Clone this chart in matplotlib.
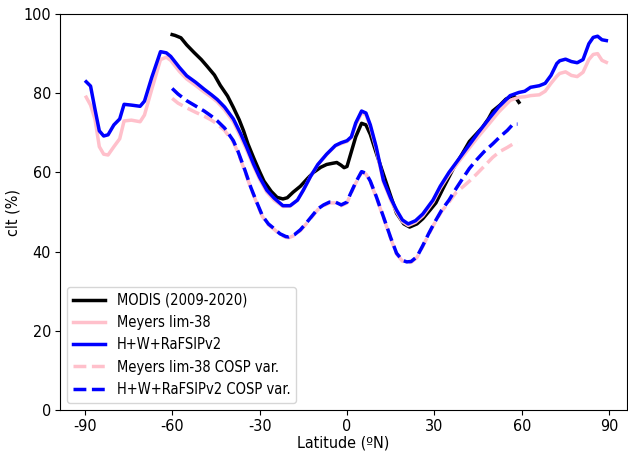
import numpy as np
import matplotlib
matplotlib.use("Agg")
import matplotlib.pyplot as plt

# Data
LAT_MODEL = [-89.5, -88, -86.5, -85, -83.5, -82, -80, -78, -76.5, -74, -71, -69.5,
             -67, -64, -62, -60.5, -57.5, -55, -52, -49, -46.5, -44.5, -42, -39,
             -36.5, -34.5, -32, -30, -27.5, -25, -22, -19.5, -17, -15, -12.5, -10,
             -7, -4, -2, 0, 1.5, 3, 5, 6.5, 8, 10, 12.5, 15, 17, 19, 21, 23.5, 26,
             29.5, 32, 35, 38, 42, 45, 49, 52, 56, 59, 61, 63, 66, 68, 70, 72, 73,
             75, 77, 79, 81, 83, 84.5, 86, 87.5, 89]
HWR = [82.9, 81.8, 76, 70.5, 69.2, 69.5, 72, 73.5, 77.2, 77, 76.7, 78,
       84, 90.5, 90.2, 89.3, 86.5, 84.4, 82.8, 81, 79.6, 78.4, 76.5, 73.5,
       69.8, 66.5, 62, 58.8, 55.5, 53.5, 51.6, 51.6, 53, 55.5, 59, 62,
       64.6, 66.8, 67.5, 68, 69, 72.5, 75.5, 75, 72, 66.5, 58, 53.5, 50.5, 48, 47, 47.8, 49.5,
       53, 56.5, 60, 63, 67, 70, 73.8, 76.5, 79.4, 80.2, 80.5, 81.5, 81.9, 82.5, 84.5, 87.5, 88.2,
       88.6, 88, 87.7, 88.5, 92.5, 94.1, 94.4, 93.5, 93.3]
MEYERS = [79, 77, 73.5, 66.5, 64.6, 64.4, 66.5, 68.5, 73, 73.2, 72.8, 74.5,
          81, 88.5, 89.1, 88.3, 85.5, 83.6, 82, 80.3, 79, 77.8, 75.8, 72.8,
          69, 65.8, 61.5, 58.3, 55, 53, 51.4, 51.5, 53, 55.5, 59, 62,
          64.5, 66.7, 67.3, 67.8, 68.8, 72, 75, 74.6, 71.5, 66, 57.6, 53, 50, 47.6, 46.6, 47.4, 49,
          52.5, 56, 59.5, 62.4, 66.2, 69, 72.5, 75.2, 78.2, 79, 79.1, 79.4, 79.6, 80.5, 82.5, 84.3, 85,
          85.4, 84.5, 84.2, 85.3, 88.5, 89.8, 90, 88.3, 87.8]

LAT_MODIS = [-60, -59, -57, -55, -52.5, -50, -48, -45.5, -43.5, -41, -39, -37, -35.5,
             -34, -32, -30, -28.5, -26, -24, -22, -20.5, -18.5, -16, -13.5, -11.5, -9,
             -7, -5, -3.5, -2, -1, 0, 1, 3, 5, 6.5, 8, 10, 12.5, 15, 17, 19.5, 21.5,
             24, 26, 28.5, 30.5, 33, 36.5, 39, 42, 44.5, 46.5, 48.5, 50, 52.5, 54.5,
             57, 58, 59]
MODIS = [94.8, 94.6, 94, 92.2, 90.3, 88.5, 86.8, 84.6, 82, 79.3, 76.4, 73.3, 70.5,
         67.2, 63.6, 60.2, 57.8, 55.2, 53.7, 53.3, 53.6, 55, 56.5, 58.5, 60, 61.3,
         62, 62.3, 62.5, 61.8, 61.2, 61.5, 64, 69, 72.4, 72, 69.6, 65, 59.5, 54, 49.7, 47, 46.2,
         47, 48.3, 50.5, 52.3, 56, 61, 64, 67.8, 69.8, 71.4, 73.5, 75.5, 77, 78.5,
         79.4, 78.8, 77.7]

LAT_COSP = [-60, -58, -55, -52, -49, -46.5, -44.5, -42, -39, -37.5, -35, -33, -31, -29,
            -27, -25, -23, -21, -20, -18, -16, -14, -12, -10, -8, -6, -4, -2, 0, 1, 3,
            5, 6.5, 8, 10, 12.5, 15, 17, 19, 20.5, 22, 24, 26, 28, 30, 32.5, 35, 37.5,
            40, 42, 44.5, 47, 50, 52.5, 55, 57, 58.5]
HWR_COSP = [81.2, 79.8, 78.1, 76.8, 75.5, 74.2, 73, 71.2, 68, 65.5, 60.5, 56.2, 52.5, 49,
            47, 45.8, 44.5, 43.8, 43.7, 44.3, 45.5, 47.2, 49, 50.8, 51.8, 52.5, 52.5, 51.8, 52.5, 54.3, 57.5,
            60.2, 59.8, 57.8, 54, 48.8, 43.5, 39.6, 37.8, 37.4, 37.5, 38.7, 41.5, 44.5, 47.3, 50.5, 53, 56,
            58.8, 61, 63.2, 65.2, 67.2, 69, 70.6, 72.2, 72.2]
MEYERS_COSP = [78.7, 77.5, 76.3, 75.2, 74.2, 73.2, 72.2, 70.6, 67.6, 65.2, 60.2, 56, 52.3, 48.8,
               46.8, 45.6, 44.3, 43.6, 43.5, 44.1, 45.3, 47, 48.8, 50.6, 51.6, 52.3, 52.3, 51.6, 52.3, 54.1, 57.3,
               60, 59.6, 57.6, 53.8, 48.6, 43.3, 39.4, 37.6, 37.2, 37.3, 38.5, 41.3, 44.3, 47.1, 50.2, 52.5, 55,
               56.5, 57.8, 59.6, 61.5, 63.8, 65.3, 66.3, 67.2, 67.6]

XTICKS = [-90, -60, -30, 0, 30, 60, 90]
YTICKS = [0, 20, 40, 60, 80, 100]

plt.rcParams['font.family'] = ['DejaVu Sans']
plt.rcParams['font.stretch'] = 'condensed'
plt.rcParams['font.size'] = 11.5

fig = plt.figure(figsize=(6.28, 4.53), dpi=100)
ax = fig.add_axes([0.0955, 0.095, 0.9025, 0.874])

LW = 2.5
ax.plot(LAT_MODIS, MODIS, color='black', lw=LW, label='MODIS (2009-2020)')
ax.plot(LAT_MODEL, MEYERS, color='pink', lw=LW, label='Meyers lim-38')
ax.plot(LAT_MODEL, HWR, color='blue', lw=LW, label='H+W+RaFSIPv2')
ax.plot(LAT_COSP, MEYERS_COSP, color='pink', lw=LW, ls='--', label='Meyers lim-38 COSP var.')
ax.plot(LAT_COSP, HWR_COSP, color='blue', lw=LW, ls='--', label='H+W+RaFSIPv2 COSP var.')

ax.set_xlim(-98.5, 96)
ax.set_ylim(0, 100)
ax.set_xticks(XTICKS)
ax.set_xticklabels([str(t) for t in XTICKS])
ax.set_yticks(YTICKS)
ax.tick_params(pad=3)
ax.set_xlabel('Latitude (ºN)', labelpad=1)
ax.set_ylabel('clt (%)', labelpad=2)
ax.legend(loc='lower left', fontsize=10.5, handlelength=2.2, labelspacing=0.5)

fig.savefig('out.png', dpi=100)
